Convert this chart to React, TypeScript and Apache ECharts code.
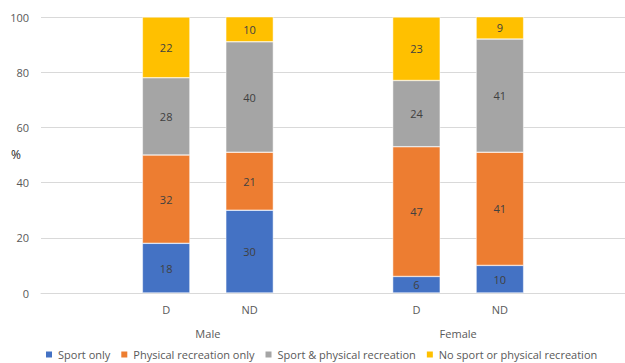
import React, { useEffect, useRef } from "react";
import * as echarts from "echarts";

const categories = ["", "D", "ND", "", "D", "ND", ""];
const groupLabels = ["", "", "Male", "", "", "Female", "", ""];
const sportOnly = [null, 18, 30, null, 6, 10, null];
const physicalOnly = [null, 32, 21, null, 47, 41, null];
const sportAndPhysical = [null, 28, 40, null, 24, 41, null];
const noSport = [null, 22, 10, null, 23, 9, null];
const seriesNames = [
  "Sport only",
  "Physical recreation only",
  "Sport & physical recreation",
  "No sport or physical recreation",
];
const yAxisTitle = "%";
const colors = ["#4472C4", "#ED7D31", "#A5A5A5", "#FFC000"];

const FONT = "'Open Sans', 'Noto Sans', sans-serif";

export default function App() {
  const ref = useRef<HTMLDivElement>(null);
  useEffect(() => {
    if (!ref.current) return;
    const chart = echarts.init(ref.current, undefined, { renderer: "svg" });
    const values = [sportOnly, physicalOnly, sportAndPhysical, noSport];
    chart.setOption({
      animation: false,
      color: colors,
      textStyle: { fontFamily: FONT },
      grid: { left: 41, right: 0, top: 17, bottom: 70, outerBoundsMode: "none", containLabel: false },
      graphic: [
        {
          type: "text",
          left: 11,
          top: 148,
          style: { text: yAxisTitle, fill: "#262626", fontSize: 12, fontFamily: FONT },
        },
      ],
      legend: {
        bottom: -2,
        left: 39,
        itemWidth: 8,
        itemHeight: 8,
        itemGap: 9,
        icon: "rect",
        textStyle: { color: "#595959", fontSize: 11, fontFamily: FONT },
        data: seriesNames,
      },
      xAxis: [
        {
          type: "category",
          data: categories,
          axisLine: { lineStyle: { color: "#d9d9d9" } },
          axisTick: { show: false },
          axisLabel: { color: "#595959", fontSize: 11, margin: 11, interval: 0 },
        },
        {
          type: "category",
          data: groupLabels,
          position: "bottom",
          offset: 24,
          boundaryGap: false,
          axisLine: { show: false },
          axisTick: { show: false },
          axisLabel: { color: "#595959", fontSize: 11, margin: 11, interval: 0 },
        },
      ],
      yAxis: {
        type: "value",
        min: 0,
        max: 100,
        interval: 20,
        axisLabel: { color: "#595959", fontSize: 11, margin: 12 },
        splitLine: { lineStyle: { color: "#d9d9d9" } },
        axisLine: { show: false },
        axisTick: { show: false },
      },
      series: seriesNames.map((name, i) => ({
        name,
        type: "bar",
        stack: "total",
        xAxisIndex: 0,
        barWidth: "57%",
        data: values[i],
        itemStyle: { color: colors[i], borderColor: "#ffffff", borderWidth: 0.5 },
        label: {
          show: true,
          position: "inside",
          color: "#404040",
          fontSize: 11,
          fontFamily: FONT,
        },
      })),
    });
    return () => chart.dispose();
  }, []);
  return (
    <div
      ref={ref}
      style={{ position: "fixed", left: 0, top: 0, width: 625, height: 363, background: "#fff" }}
    />
  );
}
